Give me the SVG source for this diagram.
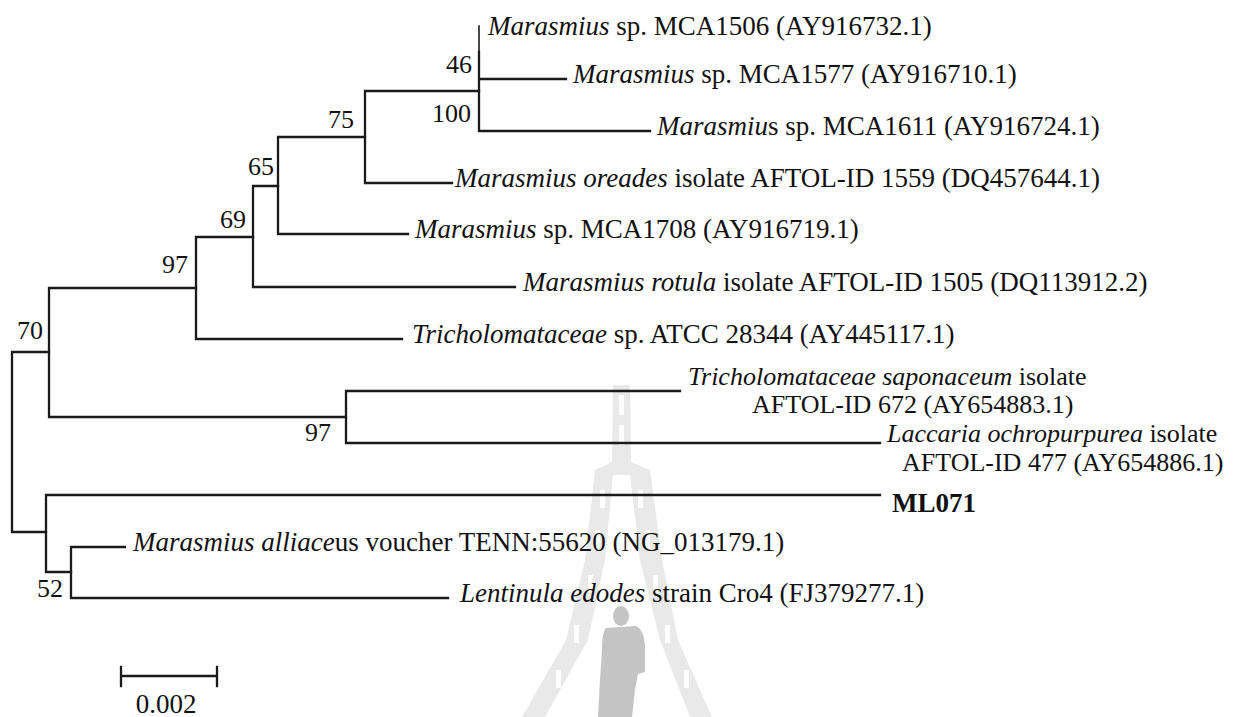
<svg xmlns="http://www.w3.org/2000/svg" width="1256" height="717" viewBox="0 0 1256 717">
<style>
text{font-family:"Liberation Serif","Times New Roman",serif;font-size:27px;fill:#111}
.i{font-style:italic}
.b{font-weight:bold}
.two{font-size:26px}
.sup{text-anchor:end;font-size:26px}
.br{stroke:#1a1a1a;stroke-width:2.3;fill:none;stroke-linecap:square}
.wm{fill:#e9e9e9}
.wd{fill:#ffffff}
</style>
<rect width="1256" height="717" fill="#ffffff"/>
<g id="watermark">
<path class="wm" d="M613 385 L630 385 L631 462 L650 470 L662 560 L678 640 L712 717 L690 717 L660 640 L640 560 L630 475 L613 475 L605 560 L588 640 L545 717 L522 717 L566 640 L585 560 L595 470 L612 462 Z"/>
<g class="wd">
<rect x="619" y="395" width="5" height="20"/><rect x="619" y="425" width="5" height="20"/>
<rect x="600" y="490" width="5" height="18"/><rect x="638" y="490" width="5" height="18"/>
<rect x="595" y="530" width="5" height="18"/><rect x="645" y="530" width="5" height="18"/>
<rect x="588" y="575" width="5" height="18"/><rect x="653" y="575" width="5" height="18"/>
<rect x="574" y="625" width="5" height="18"/><rect x="665" y="625" width="5" height="18"/>
<rect x="556" y="670" width="5" height="18"/><rect x="684" y="670" width="5" height="18"/>
</g>
<ellipse cx="621" cy="616" rx="8" ry="10" fill="#c4c4c4"/>
<path fill="#c4c4c4" d="M606 628 L636 626 Q644 630 645 645 L645 672 L638 674 L635 690 L632 717 L598 717 L600 680 L602 650 Q602 632 606 628 Z"/>
</g>
<g id="connectors" class="br">
<path d="M12 352 V532 M12 352 H49 M12 532 H46"/>
<path d="M49 288 V417 M49 288 H196 M49 417 H346"/>
<path d="M196 237 V339 M196 237 H253 M196 339 H402"/>
<path d="M253 186 V287 M253 186 H278 M253 287 H515"/>
<path d="M278 137 V234 M278 137 H365 M278 234 H408"/>
<path d="M365 91 V183 M365 91 H479 M365 183 H452"/>
<path d="M479 52 V131 M479 79 H566 M479 131 H650"/>
<path d="M479 26 V52" stroke-width="1.6"/>
<path d="M346 391 V443 M346 391 H680 M346 443 H880"/>
<path d="M46 495 V572 M46 495 H880 M46 572 H71"/>
<path d="M71 547 V598 M71 547 H125 M71 598 H448"/>
</g>
<g id="support">
<text class="sup" x="472" y="73">46</text>
<text class="sup" x="471" y="122">100</text>
<text class="sup" x="354" y="128">75</text>
<text class="sup" x="274" y="175">65</text>
<text class="sup" x="246" y="228">69</text>
<text class="sup" x="188" y="273">97</text>
<text class="sup" x="43" y="339">70</text>
<text class="sup" x="331" y="441">97</text>
<text class="sup" x="63" y="597">52</text>
</g>
<g id="leaf-MCA1506"><text x="488" y="35"><tspan class="i">Marasmius</tspan> sp. MCA1506 (AY916732.1)</text></g>
<g id="leaf-MCA1577"><text x="573" y="83"><tspan class="i">Marasmius</tspan> sp. MCA1577 (AY916710.1)</text></g>
<g id="leaf-MCA1611"><text x="657" y="135"><tspan class="i">Marasmiu</tspan>s sp. MCA1611 (AY916724.1)</text></g>
<g id="leaf-oreades"><text x="455" y="187"><tspan class="i">Marasmius oreades</tspan> isolate AFTOL-ID 1559 (DQ457644.1)</text></g>
<g id="leaf-MCA1708"><text x="415" y="238"><tspan class="i">Marasmius</tspan> sp. MCA1708 (AY916719.1)</text></g>
<g id="leaf-rotula"><text x="523" y="291"><tspan class="i">Marasmius rotula</tspan> isolate AFTOL-ID 1505 (DQ113912.2)</text></g>
<g id="leaf-ATCC28344"><text x="412" y="343"><tspan class="i">Tricholomataceae</tspan> sp. ATCC 28344 (AY445117.1)</text></g>
<g id="leaf-saponaceum"><text class="two" x="688" y="385"><tspan class="i">Tricholomataceae saponaceum</tspan> isolate</text><text class="two" x="752" y="413">AFTOL-ID 672 (AY654883.1)</text></g>
<g id="leaf-laccaria"><text class="two" x="887" y="442"><tspan class="i">Laccaria ochropurpurea</tspan> isolate</text><text class="two" x="902" y="471">AFTOL-ID 477 (AY654886.1)</text></g>
<g id="leaf-ML071"><text class="b" x="892" y="512">ML071</text></g>
<g id="leaf-alliaceus"><text x="133" y="551"><tspan class="i">Marasmius alliace</tspan>us voucher TENN:55620 (NG_013179.1)</text></g>
<g id="leaf-lentinula"><text x="460" y="602"><tspan class="i">Lentinula edodes</tspan> strain Cro4 (FJ379277.1)</text></g>
<g id="scalebar">
<path class="br" d="M121 676 H217 M121 667 V686 M217 667 V686"/>
<text x="166" y="713" text-anchor="middle" font-size="26">0.002</text>
</g>
</svg>
